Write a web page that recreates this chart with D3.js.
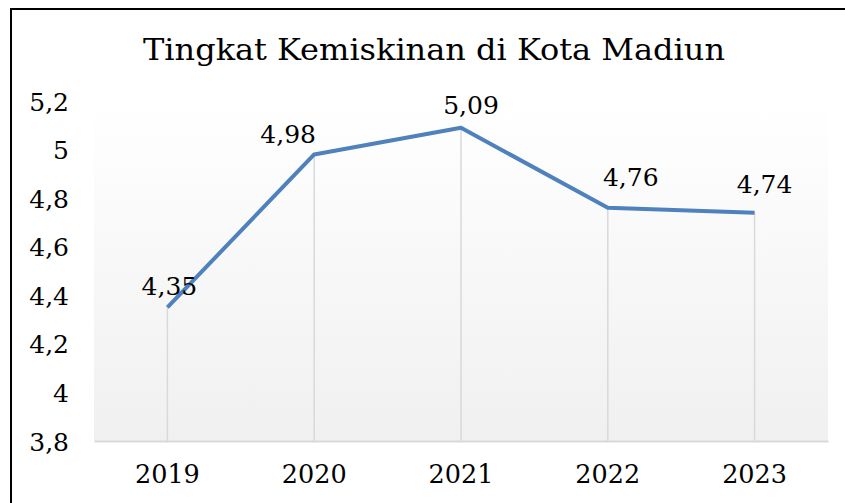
<!DOCTYPE html>
<html><head><meta charset="utf-8">
<script src="https://cdn.jsdelivr.net/npm/d3@7"></script>
<style>
html,body{margin:0;padding:0;background:#fff;}
svg{display:block;}
text{font-family:"DejaVu Serif","Liberation Serif",serif;fill:#000;}
</style></head>
<body>
<svg id="c" width="845" height="503"></svg>
<script>
const title = "Tingkat Kemiskinan di Kota Madiun";
const years = ["2019","2020","2021","2022","2023"];
const povertyRate = [4.35, 4.98, 5.09, 4.76, 4.74];
const yTicks = [3.8, 4, 4.2, 4.4, 4.6, 4.8, 5, 5.2];

const svg = d3.select("#c");
const fmt = v => String(v).replace(".", ",");

const plot = {left: 94, right: 828, top: 101, bottom: 441};

const x = d3.scaleBand().domain(years).range([plot.left, plot.right]).padding(0);
const y = d3.scaleLinear().domain([3.8, 5.2]).range([plot.bottom, plot.top]);

const defs = svg.append("defs");
const grad = defs.append("linearGradient").attr("id","pg").attr("x1",0).attr("y1",0).attr("x2",0).attr("y2",1);
grad.append("stop").attr("offset","0%").attr("stop-color","#ffffff");
grad.append("stop").attr("offset","100%").attr("stop-color","#f0f0f0");

svg.append("rect").attr("x", plot.left).attr("y", plot.top)
  .attr("width", plot.right - plot.left).attr("height", plot.bottom - plot.top)
  .attr("fill", "url(#pg)");

svg.append("rect").attr("x", 11).attr("y", 9).attr("width", 850).attr("height", 510)
  .attr("fill", "none").attr("stroke", "#000").attr("stroke-width", 2);

svg.append("text").attr("x", 434).attr("y", 59.5).attr("text-anchor","middle")
  .attr("font-size", 30).attr("textLength", 582).attr("lengthAdjust","spacingAndGlyphs")
  .text(title);

const yAxis = d3.axisLeft(y).tickValues(yTicks).tickFormat(fmt).tickSize(0).tickPadding(0);
const gy = svg.append("g").attr("transform", `translate(69,0)`).call(yAxis);
gy.select(".domain").remove();
gy.selectAll("text").attr("font-family", '"DejaVu Serif", serif').attr("font-size", 25)
  .attr("fill", "#000").attr("dy", "0.36em");

const xAxis = d3.axisBottom(x).tickSize(0).tickPadding(0);
const gx = svg.append("g").attr("transform", `translate(0,${plot.bottom})`).call(xAxis);
gx.select(".domain").attr("stroke", "#d9d9d9").attr("stroke-width", 2);
gx.selectAll("text").attr("font-family", '"DejaVu Serif", serif').attr("font-size", 25.5)
  .attr("fill","#000").attr("y", 42).attr("dy", 0);

const cx = d => x(d) + x.bandwidth()/2;

svg.append("g").selectAll("line").data(years).join("line")
  .attr("x1", d => cx(d)).attr("x2", d => cx(d))
  .attr("y1", (d,i) => y(povertyRate[i])).attr("y2", plot.bottom)
  .attr("stroke", "#d9d9d9").attr("stroke-width", 1.5);

const line = d3.line().x((d,i) => cx(years[i])).y(d => y(d));
svg.append("path").datum(povertyRate).attr("d", line)
  .attr("fill","none").attr("stroke","#4f81bd").attr("stroke-width",4)
  .attr("stroke-linejoin","round").attr("stroke-linecap","butt");

const nudgeX = [2, -26, 10, 23, 10];
const nudgeY = [-12, -11, -14, -22, -20];
svg.append("g").selectAll("text").data(povertyRate).join("text")
  .attr("x", (d,i) => cx(years[i]) + nudgeX[i])
  .attr("y", (d,i) => y(d) + nudgeY[i])
  .attr("text-anchor","middle").attr("font-size", 25)
  .text(d => fmt(d));
</script>
</body></html>
